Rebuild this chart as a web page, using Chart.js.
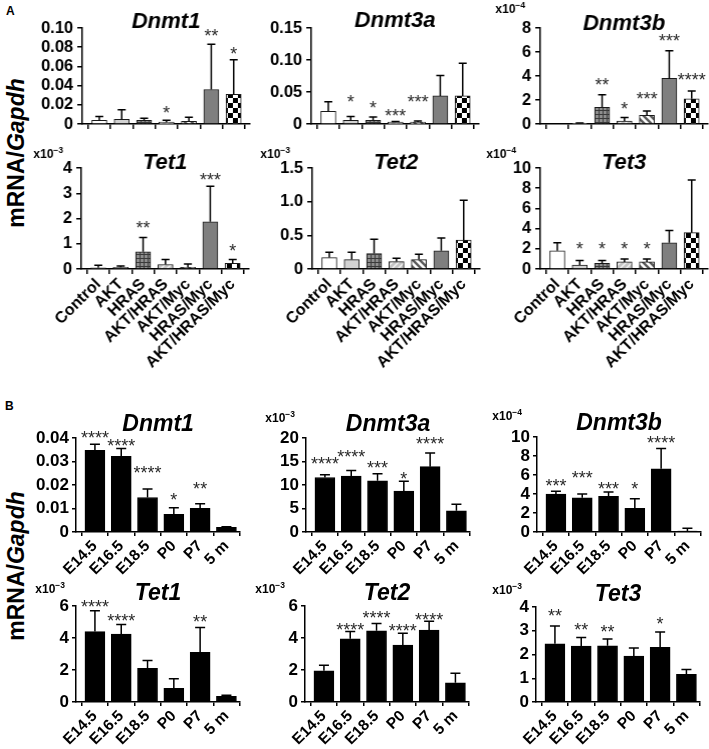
<!DOCTYPE html>
<html>
<head>
<meta charset="utf-8">
<script src="https://cdn.jsdelivr.net/npm/chart.js@4.4.1/dist/chart.umd.min.js"></script>
<style>
  body { margin: 0; background: #fff; width: 709px; height: 749px; position: relative; overflow: hidden;
         font-family: "Liberation Sans", Arial, sans-serif; }
  .box { position: absolute; }
  .panel { position: absolute; font-weight: bold; font-size: 12px; line-height: 12px; }
  .ylab { position: absolute; width: 200px; height: 28px; line-height: 28px; text-align: center;
          font-weight: bold; font-size: 23px; white-space: nowrap; transform: rotate(-90deg); }
</style>
</head>
<body>
<div class="panel" style="left:6px;top:5px">A</div>
<div class="panel" style="left:5px;top:400px">B</div>
<div class="ylab" style="left:-84px;top:139px">mRNA/<i>Gapdh</i></div>
<div class="ylab" style="left:-84px;top:552px">mRNA/<i>Gapdh</i></div>
<script>
const FONT = '"Liberation Sans", Arial, sans-serif';

// categories
const catsA = ['Control', 'AKT', 'HRAS', 'AKT/HRAS', 'AKT/Myc', 'HRAS/Myc', 'AKT/HRAS/Myc'];
const catsB = ['E14.5', 'E16.5', 'E18.5', 'P0', 'P7', '5 m'];

// ---- panel A ----
const aDnmt1Mean = [0.004, 0.005, 0.004, 0.002, 0.003, 0.036, 0.031];
const aDnmt1Sd = [0.004, 0.010, 0.002, 0.002, 0.004, 0.047, 0.036];
const aDnmt1Stars = ['', '', '', '*', '', '**', '*'];
const aDnmt1StarAt = [null, null, null, 0.016, null, 0.096, 0.078];
const aDnmt1Ticks = [0, 0.02, 0.04, 0.06, 0.08, 0.10];
const aDnmt1TickLabels = ['0', '0.02', '0.04', '0.06', '0.08', '0.10'];

const aDnmt3aMean = [0.020, 0.006, 0.006, 0.003, 0.003, 0.044, 0.044];
const aDnmt3aSd = [0.015, 0.006, 0.005, 0.001, 0.002, 0.032, 0.051];
const aDnmt3aStars = ['', '*', '*', '***', '***', '', ''];
const aDnmt3aStarAt = [null, 0.042, 0.0315, 0.0195, 0.042, null, null];
const aDnmt3aTicks = [0, 0.05, 0.10, 0.15];
const aDnmt3aTickLabels = ['0', '0.05', '0.10', '0.15'];

const aDnmt3bMean = [0, 0.05, 1.4, 0.25, 0.72, 3.8, 2.1];
const aDnmt3bSd = [0, 0.05, 1.05, 0.3, 0.38, 2.3, 0.65];
const aDnmt3bStars = ['', '', '**', '*', '***', '***', '****'];
const aDnmt3bStarAt = [null, null, 3.6, 1.6, 2.48, 7.28, 4.0];
const aDnmt3bTicks = [0, 2, 4, 6, 8];
const aDnmt3bTickLabels = ['0', '2', '4', '6', '8'];

const aTet1Mean = [0.05, 0.07, 0.68, 0.18, 0.07, 1.87, 0.22];
const aTet1Sd = [0.10, 0.05, 0.57, 0.20, 0.13, 1.41, 0.16];
const aTet1Stars = ['', '', '**', '', '', '***', '*'];
const aTet1StarAt = [null, null, 1.78, null, null, 3.72, 0.87];
const aTet1Ticks = [0, 1, 2, 3, 4];
const aTet1TickLabels = ['0', '1', '2', '3', '4'];

const aTet2Mean = [0.17, 0.14, 0.23, 0.11, 0.14, 0.27, 0.43];
const aTet2Sd = [0.08, 0.11, 0.21, 0.05, 0.08, 0.19, 0.59];
const aTet2Stars = ['', '', '', '', '', '', ''];
const aTet2StarAt = [null, null, null, null, null, null, null];
const aTet2Ticks = [0, 0.5, 1.0, 1.5];
const aTet2TickLabels = ['0', '0.5', '1.0', '1.5'];

const aTet3Mean = [1.8, 0.4, 0.55, 0.7, 0.7, 2.6, 3.6];
const aTet3Sd = [0.8, 0.45, 0.3, 0.3, 0.3, 1.2, 5.2];
const aTet3Stars = ['', '*', '*', '*', '*', '', ''];
const aTet3StarAt = [null, 2.38, 2.38, 2.38, 2.38, null, null];
const aTet3Ticks = [0, 2, 4, 6, 8, 10];
const aTet3TickLabels = ['0', '2', '4', '6', '8', '10'];

// ---- panel B ----
const bDnmt1Mean = [0.0348, 0.0322, 0.0147, 0.0075, 0.0101, 0.0020];
const bDnmt1Sd = [0.0025, 0.0033, 0.0036, 0.0028, 0.0019, 0.0002];
const bDnmt1Stars = ['****', '****', '****', '*', '**', ''];
const bDnmt1StarAt = [0.0421, 0.0383, 0.0272, 0.0157, 0.020, null];
const bDnmt1Ticks = [0, 0.01, 0.02, 0.03, 0.04];
const bDnmt1TickLabels = ['0', '0.01', '0.02', '0.03', '0.04'];

const bDnmt3aMean = [11.6, 11.9, 10.9, 8.7, 13.9, 4.5];
const bDnmt3aSd = [0.6, 1.2, 1.5, 2.1, 2.9, 1.4];
const bDnmt3aStars = ['****', '****', '***', '*', '****', ''];
const bDnmt3aStarAt = [15.5, 17.0, 14.5, 12.3, 19.6, null];
const bDnmt3aTicks = [0, 5, 10, 15, 20];
const bDnmt3aTickLabels = ['0', '5', '10', '15', '20'];

const bDnmt3bMean = [4.0, 3.6, 3.75, 2.5, 6.65, 0.1];
const bDnmt3bSd = [0.3, 0.4, 0.45, 1.0, 2.15, 0.3];
const bDnmt3bStars = ['***', '***', '***', '*', '****', ''];
const bDnmt3bStarAt = [5.3, 6.2, 5.0, 5.0, 9.8, null];
const bDnmt3bTicks = [0, 2, 4, 6, 8, 10];
const bDnmt3bTickLabels = ['0', '2', '4', '6', '8', '10'];

const bTet1Mean = [4.4, 4.25, 2.1, 0.85, 3.1, 0.35];
const bTet1Sd = [1.3, 0.6, 0.5, 0.6, 1.55, 0.07];
const bTet1Stars = ['****', '****', '', '', '**', ''];
const bTet1StarAt = [6.19, 5.31, null, null, 5.25, null];
const bTet1Ticks = [0, 2, 4, 6];
const bTet1TickLabels = ['0', '2', '4', '6'];

const bTet2Mean = [1.95, 3.95, 4.45, 3.55, 4.5, 1.2];
const bTet2Sd = [0.35, 0.45, 0.45, 0.75, 0.55, 0.6];
const bTet2Stars = ['', '****', '****', '****', '****', ''];
const bTet2StarAt = [null, 4.75, 5.5, 4.69, 5.38, null];
const bTet2Ticks = [0, 2, 4, 6];
const bTet2TickLabels = ['0', '2', '4', '6'];

const bTet3Mean = [2.45, 2.35, 2.37, 1.93, 2.3, 1.17];
const bTet3Sd = [0.75, 0.37, 0.28, 0.34, 0.65, 0.2];
const bTet3Stars = ['**', '**', '**', '', '*', ''];
const bTet3StarAt = [3.79, 3.21, 3.12, null, 3.46, null];
const bTet3Ticks = [0, 1, 2, 3, 4];
const bTet3TickLabels = ['0', '1', '2', '3', '4'];

// fills for the panel A groups
function tile(size, draw) {
  const c = document.createElement('canvas');
  c.width = size; c.height = size;
  draw(c.getContext('2d'), size);
  return document.createElement('canvas').getContext('2d').createPattern(c, 'repeat');
}
const fillsA = [
  '#ffffff',
  '#d2d2d2',
  tile(4, (g, s) => { g.fillStyle = '#8e8e8e'; g.fillRect(0, 0, s, s); g.fillStyle = '#3a3a3a'; g.fillRect(0, 0, s, 1); g.fillRect(0, 0, 1, s); }),
  tile(6, (g, s) => { g.fillStyle = '#c4c4c4'; g.fillRect(0, 0, s, s); g.strokeStyle = '#f4f4f4'; g.lineWidth = 1.4;
    g.beginPath(); g.moveTo(-1, s + 1); g.lineTo(s + 1, -1); g.moveTo(-1, 1); g.lineTo(1, -1); g.moveTo(s - 1, s + 1); g.lineTo(s + 1, s - 1); g.stroke(); }),
  tile(7, (g, s) => { g.fillStyle = '#ffffff'; g.fillRect(0, 0, s, s); g.strokeStyle = '#5a5a5a'; g.lineWidth = 2.4;
    g.beginPath(); g.moveTo(-1, -1); g.lineTo(s + 1, s + 1); g.moveTo(-1, s - 1); g.lineTo(1, s + 1); g.moveTo(s - 1, -1); g.lineTo(s + 1, 1); g.stroke(); }),
  '#7f7f7f',
  tile(10, (g, s) => { g.fillStyle = '#ffffff'; g.fillRect(0, 0, s, s); g.fillStyle = '#000'; g.fillRect(0, 0, 5, 5); g.fillRect(5, 5, 5, 5); })
];

const PAD_TOP = 50, Y_W = 70, PAD_R = 10;

function addChart(o, g) {
  const isA = g.panel === 'A';
  const step = isA ? 22.3 : 26.3;
  const xMin = isA ? -0.76 : -0.72;
  const xMax = o.cats.length - 1 + (isA ? 0.72 : 0.52);
  const plotW = (xMax - xMin) * step;
  const xH = g.showX ? (isA ? 115 : 60) : 10;

  const box = document.createElement('div');
  box.className = 'box';
  box.style.left = (g.ax - Y_W) + 'px';
  box.style.top = (g.top - PAD_TOP) + 'px';
  box.style.width = (Y_W + plotW + PAD_R) + 'px';
  box.style.height = (PAD_TOP + g.base - g.top + xH) + 'px';
  const canvas = document.createElement('canvas');
  box.appendChild(canvas);
  document.body.appendChild(box);

  const axisGrid = { drawOnChartArea: false, drawTicks: true, tickLength: isA ? 5 : 4, color: '#000', lineWidth: 1.5 };
  const axisBorder = { display: true, color: '#000', width: 1.5 };

  const extras = {
    id: 'extras',
    afterDatasetsDraw(chart) {
      const ctx = chart.ctx, xs = chart.scales.x, ys = chart.scales.y, a = chart.chartArea;
      ctx.save();
      // error bars
      ctx.strokeStyle = '#000';
      ctx.lineWidth = 1.5;
      const cw = isA ? 4 : 5;
      o.mean.forEach((m, i) => {
        if (!o.sd[i]) return;
        const x = xs.getPixelForValue(i);
        const y0 = ys.getPixelForValue(m), y1 = ys.getPixelForValue(m + o.sd[i]);
        ctx.beginPath();
        ctx.moveTo(x, y0); ctx.lineTo(x, y1);
        ctx.moveTo(x - cw, y1); ctx.lineTo(x + cw, y1);
        ctx.stroke();
      });
      // significance stars
      const fs = 18;
      ctx.fillStyle = '#2a2a2a';
      ctx.font = fs + 'px ' + FONT;
      ctx.textAlign = 'center';
      ctx.textBaseline = 'alphabetic';
      o.stars.forEach((s, i) => {
        if (!s) return;
        ctx.fillText(s, xs.getPixelForValue(i), ys.getPixelForValue(o.starAt[i]) + 0.58 * fs);
      });
      // gene title
      ctx.fillStyle = '#000';
      ctx.font = 'italic bold ' + (isA ? 22 : 23) + 'px ' + FONT;
      ctx.textBaseline = 'middle';
      ctx.fillText(o.title, (a.left + a.right) / 2, a.top - g.titleGap);
      // axis multiplier
      if (o.exp) {
        ctx.font = 'bold 12px ' + FONT;
        const w1 = ctx.measureText('x10').width;
        ctx.font = 'bold 8.5px ' + FONT;
        const w2 = ctx.measureText(o.exp).width;
        const xr = a.left - g.multDx, yc = a.top - g.multDy;
        ctx.textAlign = 'left';
        ctx.font = 'bold 12px ' + FONT;
        ctx.fillText('x10', xr - w1 - w2, yc);
        ctx.font = 'bold 8.5px ' + FONT;
        ctx.fillText(o.exp, xr - w2, yc - 4);
      }
      ctx.restore();
    }
  };

  new Chart(canvas, {
    type: 'bar',
    data: {
      datasets: [{
        data: o.mean.map((v, i) => ({ x: i, y: v })),
        backgroundColor: isA ? fillsA : '#000',
        borderColor: isA ? '#1a1a1a' : '#000',
        borderWidth: 1,
        barThickness: isA ? 15 : 20
      }]
    },
    options: {
      responsive: true,
      maintainAspectRatio: false,
      animation: false,
      layout: { padding: { top: PAD_TOP, right: PAD_R, left: 0, bottom: 0 } },
      plugins: { legend: { display: false }, tooltip: { enabled: false } },
      scales: {
        x: {
          type: 'linear', min: xMin, max: xMax, offset: false,
          afterBuildTicks: s => { s.ticks = o.cats.map((c, i) => ({ value: i })); },
          afterFit: s => { s.height = xH; },
          ticks: {
            autoSkip: false, minRotation: 45, maxRotation: 45, padding: 1, color: '#000',
            font: { family: FONT, weight: 'bold', size: isA ? 16 : 15.5 },
            callback: (v, i) => g.showX ? o.cats[i] : ''
          },
          grid: axisGrid,
          border: axisBorder
        },
        y: {
          min: 0, max: o.ticks[o.ticks.length - 1],
          afterBuildTicks: s => { s.ticks = o.ticks.map(v => ({ value: v })); },
          afterFit: s => { s.width = Y_W; },
          ticks: {
            autoSkip: false, color: '#000', padding: isA ? 4 : 3,
            font: { family: FONT, weight: 'bold', size: isA ? 16.5 : 17 },
            callback: (v, i) => o.tickLabels[i]
          },
          grid: axisGrid,
          border: axisBorder
        }
      }
    },
    plugins: [extras]
  });
}

// panel A
addChart({ title: 'Dnmt1', cats: catsA, mean: aDnmt1Mean, sd: aDnmt1Sd, stars: aDnmt1Stars, starAt: aDnmt1StarAt, ticks: aDnmt1Ticks, tickLabels: aDnmt1TickLabels },
  { panel: 'A', ax: 82, top: 28, base: 128, showX: false, titleGap: 6 });
addChart({ title: 'Dnmt3a', cats: catsA, mean: aDnmt3aMean, sd: aDnmt3aSd, stars: aDnmt3aStars, starAt: aDnmt3aStarAt, ticks: aDnmt3aTicks, tickLabels: aDnmt3aTickLabels },
  { panel: 'A', ax: 311, top: 28, base: 128, showX: false, titleGap: 7 });
addChart({ title: 'Dnmt3b', exp: '\u22124', cats: catsA, mean: aDnmt3bMean, sd: aDnmt3bSd, stars: aDnmt3bStars, starAt: aDnmt3bStarAt, ticks: aDnmt3bTicks, tickLabels: aDnmt3bTickLabels },
  { panel: 'A', ax: 540, top: 28, base: 128, showX: false, titleGap: 4, multDx: 15, multDy: 18 });
addChart({ title: 'Tet1', exp: '\u22123', cats: catsA, mean: aTet1Mean, sd: aTet1Sd, stars: aTet1Stars, starAt: aTet1StarAt, ticks: aTet1Ticks, tickLabels: aTet1TickLabels },
  { panel: 'A', ax: 81, top: 168, base: 269, showX: true, titleGap: 5, multDx: 18, multDy: 13 });
addChart({ title: 'Tet2', exp: '\u22123', cats: catsA, mean: aTet2Mean, sd: aTet2Sd, stars: aTet2Stars, starAt: aTet2StarAt, ticks: aTet2Ticks, tickLabels: aTet2TickLabels },
  { panel: 'A', ax: 312, top: 168, base: 269, showX: true, titleGap: 5, multDx: 22, multDy: 13 });
addChart({ title: 'Tet3', exp: '\u22124', cats: catsA, mean: aTet3Mean, sd: aTet3Sd, stars: aTet3Stars, starAt: aTet3StarAt, ticks: aTet3Ticks, tickLabels: aTet3TickLabels },
  { panel: 'A', ax: 540, top: 168, base: 269, showX: true, titleGap: 5, multDx: 24, multDy: 13 });

// panel B
addChart({ title: 'Dnmt1', cats: catsB, mean: bDnmt1Mean, sd: bDnmt1Sd, stars: bDnmt1Stars, starAt: bDnmt1StarAt, ticks: bDnmt1Ticks, tickLabels: bDnmt1TickLabels },
  { panel: 'B', ax: 76, top: 438, base: 532, showX: true, titleGap: 13 });
addChart({ title: 'Dnmt3a', exp: '\u22123', cats: catsB, mean: bDnmt3aMean, sd: bDnmt3aSd, stars: bDnmt3aStars, starAt: bDnmt3aStarAt, ticks: bDnmt3aTicks, tickLabels: bDnmt3aTickLabels },
  { panel: 'B', ax: 306, top: 438, base: 532, showX: true, titleGap: 13, multDx: 11, multDy: 19 });
addChart({ title: 'Dnmt3b', exp: '\u22124', cats: catsB, mean: bDnmt3bMean, sd: bDnmt3bSd, stars: bDnmt3bStars, starAt: bDnmt3bStarAt, ticks: bDnmt3bTicks, tickLabels: bDnmt3bTickLabels },
  { panel: 'B', ax: 537, top: 437, base: 532, showX: true, titleGap: 13, multDx: 15, multDy: 20 });
addChart({ title: 'Tet1', exp: '\u22123', cats: catsB, mean: bTet1Mean, sd: bTet1Sd, stars: bTet1Stars, starAt: bTet1StarAt, ticks: bTet1Ticks, tickLabels: bTet1TickLabels },
  { panel: 'B', ax: 76, top: 606, base: 702, showX: true, titleGap: 12, multDx: 11, multDy: 16 });
addChart({ title: 'Tet2', exp: '\u22123', cats: catsB, mean: bTet2Mean, sd: bTet2Sd, stars: bTet2Stars, starAt: bTet2StarAt, ticks: bTet2Ticks, tickLabels: bTet2TickLabels },
  { panel: 'B', ax: 305, top: 606, base: 702, showX: true, titleGap: 12, multDx: 20, multDy: 16 });
addChart({ title: 'Tet3', exp: '\u22123', cats: catsB, mean: bTet3Mean, sd: bTet3Sd, stars: bTet3Stars, starAt: bTet3StarAt, ticks: bTet3Ticks, tickLabels: bTet3TickLabels },
  { panel: 'B', ax: 536, top: 607, base: 702, showX: true, titleGap: 12, multDx: 14, multDy: 16 });
</script>
</body>
</html>
